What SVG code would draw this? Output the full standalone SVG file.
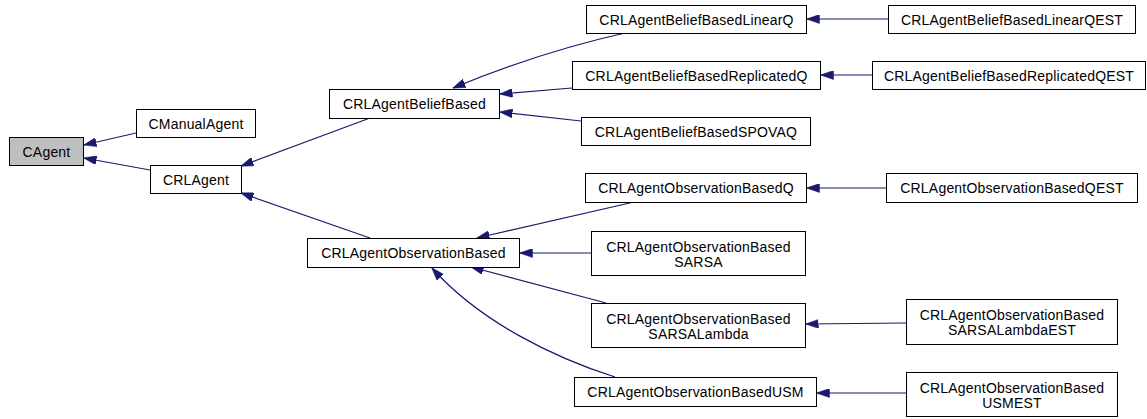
<svg xmlns="http://www.w3.org/2000/svg" width="1147" height="419" viewBox="0 0 1147 419">
  <style>
    .node rect { fill: #ffffff; stroke: #000000; stroke-width: 1; }
    .node.root rect { fill: #bfbfbf; }
    .node text { font-family: "Liberation Sans", Arial, sans-serif; font-size: 14px; letter-spacing: 0.2px; fill: #000000; text-anchor: middle; }
    .edges path { fill: none; stroke: #191970; stroke-width: 1.2; marker-end: url(#inherit); }
  </style>
  <defs>
    <marker id="inherit" viewBox="0 0 13 9" refX="12.5" refY="4.5" markerWidth="13" markerHeight="9" markerUnits="userSpaceOnUse" orient="auto">
      <path d="M0,0 L13,4.5 L0,9 Z" fill="#191970" stroke="#191970" stroke-width="0.5"/>
    </marker>
  </defs>
  <rect width="1147" height="419" fill="#ffffff"/>

  <g class="edges" id="edges">
    <!-- first level -->
    <path d="M136,133 L84,145"/>
    <path d="M150,170 L84,158"/>
    <!-- CRLAgent children -->
    <path d="M370,118 L241,166"/>
    <path d="M370,238 L241,193"/>
    <!-- belief based family -->
    <path d="M625,33 Q540,52 453,88"/>
    <path d="M572,88 L500,94"/>
    <path d="M581,121 L500,112"/>
    <!-- observation based family -->
    <path d="M634,202 L477,238"/>
    <path d="M591,253 L520,253"/>
    <path d="M606,303 L471,267"/>
    <path d="M615,377 C555,358 480,322 432,268"/>
    <!-- estimation variants -->
    <path d="M888,19 L807,19"/>
    <path d="M872,75 L821,75"/>
    <path d="M886,188 L807,188"/>
    <path d="M906,323 L806,324"/>
    <path d="M906,393 L817,393"/>
  </g>

  <g class="node root" id="CAgent">
    <rect x="9.5" y="137.5" width="74" height="28"/>
    <text x="46.5" y="156.5">CAgent</text>
  </g>
  <g class="node" id="CManualAgent">
    <rect x="136.5" y="109.5" width="119" height="28"/>
    <text x="196" y="128.5">CManualAgent</text>
  </g>
  <g class="node" id="CRLAgent">
    <rect x="150.5" y="165.5" width="91" height="28"/>
    <text x="196" y="184.5">CRLAgent</text>
  </g>
  <g class="node" id="CRLAgentBeliefBased">
    <rect x="329.5" y="89.5" width="170" height="29"/>
    <text x="414.5" y="109">CRLAgentBeliefBased</text>
  </g>
  <g class="node" id="CRLAgentBeliefBasedLinearQ">
    <rect x="586.5" y="5.5" width="220" height="28"/>
    <text x="696.5" y="24.5">CRLAgentBeliefBasedLinearQ</text>
  </g>
  <g class="node" id="CRLAgentBeliefBasedLinearQEST">
    <rect x="888.5" y="5.5" width="247" height="28"/>
    <text x="1012" y="24.5">CRLAgentBeliefBasedLinearQEST</text>
  </g>
  <g class="node" id="CRLAgentBeliefBasedReplicatedQ">
    <rect x="572.5" y="61.5" width="248" height="28"/>
    <text x="696.5" y="80.5">CRLAgentBeliefBasedReplicatedQ</text>
  </g>
  <g class="node" id="CRLAgentBeliefBasedReplicatedQEST">
    <rect x="872.5" y="61.5" width="273" height="28"/>
    <text x="1009" y="80.5">CRLAgentBeliefBasedReplicatedQEST</text>
  </g>
  <g class="node" id="CRLAgentBeliefBasedSPOVAQ">
    <rect x="581.5" y="117.5" width="229" height="28"/>
    <text x="696" y="136.5">CRLAgentBeliefBasedSPOVAQ</text>
  </g>
  <g class="node" id="CRLAgentObservationBased">
    <rect x="307.5" y="238.5" width="212" height="29"/>
    <text x="413.5" y="258">CRLAgentObservationBased</text>
  </g>
  <g class="node" id="CRLAgentObservationBasedQ">
    <rect x="585.5" y="173.5" width="221" height="29"/>
    <text x="696" y="193">CRLAgentObservationBasedQ</text>
  </g>
  <g class="node" id="CRLAgentObservationBasedQEST">
    <rect x="886.5" y="173.5" width="251" height="29"/>
    <text x="1012" y="193">CRLAgentObservationBasedQEST</text>
  </g>
  <g class="node" id="CRLAgentObservationBasedSARSA">
    <rect x="591.5" y="231.5" width="214" height="44"/>
    <text x="698.5" y="251.5">CRLAgentObservationBased</text>
    <text x="698.5" y="266.5">SARSA</text>
  </g>
  <g class="node" id="CRLAgentObservationBasedSARSALambda">
    <rect x="591.5" y="303.5" width="214" height="44"/>
    <text x="698.5" y="323.5">CRLAgentObservationBased</text>
    <text x="698.5" y="338.5">SARSALambda</text>
  </g>
  <g class="node" id="CRLAgentObservationBasedSARSALambdaEST">
    <rect x="906.5" y="299.5" width="211" height="45"/>
    <text x="1012" y="320">CRLAgentObservationBased</text>
    <text x="1012" y="335">SARSALambdaEST</text>
  </g>
  <g class="node" id="CRLAgentObservationBasedUSM">
    <rect x="574.5" y="377.5" width="242" height="29"/>
    <text x="695.5" y="397">CRLAgentObservationBasedUSM</text>
  </g>
  <g class="node" id="CRLAgentObservationBasedUSMEST">
    <rect x="906.5" y="372.5" width="211" height="44"/>
    <text x="1012" y="392.5">CRLAgentObservationBased</text>
    <text x="1012" y="407.5">USMEST</text>
  </g>
</svg>
